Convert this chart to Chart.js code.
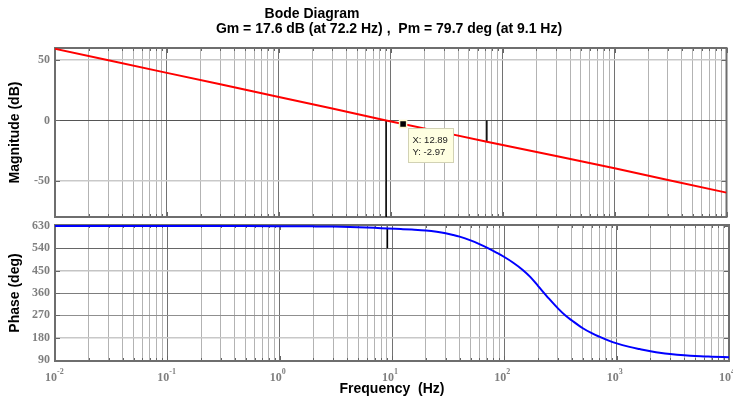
<!DOCTYPE html>
<html>
<head>
<meta charset="utf-8">
<title>Bode Diagram</title>
<script src="https://cdn.jsdelivr.net/npm/chart.js@4.4.1/dist/chart.umd.min.js"></script>
<style>
  html, body { margin: 0; padding: 0; background: #fff; }
  #wrap { position: relative; width: 733px; height: 400px; }
  #wrap canvas { position: absolute; left: 0; top: 0; }
</style>
</head>
<body>
<div id="wrap">
  <canvas id="mag" width="733" height="400"></canvas>
  <canvas id="phase" width="733" height="400"></canvas>
</div>
<script>
// ===== Data =====
const magFreq = [0.01, 0.03, 0.1, 0.3, 1, 3, 9.1, 12.89, 30, 72.2, 100, 300, 1000, 3000, 10000];
const magDb   = [59.3, 49.8, 39.4, 29.9, 19.4, 9.8, 0, -2.97, -10.1, -17.6, -20.3, -29.5, -39.6, -49.4, -59.8];

const phaseFreq = [0.01, 0.1, 0.5, 1, 2, 3, 5, 7, 9.1, 12, 15, 20, 25, 30, 35, 40, 50, 60, 72.2, 85,
                   100, 120, 145, 170, 200, 250, 300, 350, 400, 500, 600, 700, 850, 1000, 1300, 1600,
                   2000, 2500, 3000, 4000, 5000, 7000, 10000];
const phaseDeg  = [630, 630, 629.7, 629.3, 628.5, 627.6, 625.3, 622.6, 619.7, 617.5, 615.5, 612, 607, 601, 594, 587, 572, 557, 540, 523,
                   505, 482, 454, 425, 388, 337, 298, 269, 249, 218, 198, 184, 168, 157, 143, 134,
                   125, 118, 114, 109, 106, 103.5, 101.5];

const magTicks   = [-50, 0, 50];
const phaseTicks = [90, 180, 270, 360, 450, 540, 630];
const decades    = [-2, -1, 0, 1, 2, 3, 4];   // x axis: 10^-2 .. 10^4

const magRange   = [-80, 60];
const phaseRange = [86, 634];

// stability margins
const gm = { freq: 72.2, db: -17.6 };
const pm = { freq: 9.1, deg: 79.7 };
const phaseRef = 540;                      // -180 deg, wrapped
const dataTip = { x: 12.89, y: -2.97 };

// ===== Helpers =====
const SANS  = '"Liberation Sans", Arial, Helvetica, sans-serif';
const SERIF = '"Liberation Serif", "Times New Roman", serif';

const freqTicks = [];
decades.slice(0, -1).forEach(e => {
  for (let m = 1; m <= 9; m++) freqTicks.push(+(m * Math.pow(10, e)).toPrecision(3));
});
freqTicks.push(Math.pow(10, decades[decades.length - 1]));

const isDecade = v => Math.abs(Math.log10(v) - Math.round(Math.log10(v))) < 1e-9;
const pts = (xs, ys) => xs.map((x, i) => ({ x, y: ys[i] }));

// horizontal grid shades / widths
const magGrid   = { '-50': ['#c9c9c9', 1.5], '0': ['#555555', 1], '50': ['#c9c9c9', 1.5] };
const phaseGrid = {
  90: ['#777', 1], 180: ['#c8c8c8', 1.5], 270: ['#8f8f8f', 1], 360: ['#7d7d7d', 1],
  450: ['#c4c4c4', 1.5], 540: ['#666', 1], 630: ['#999', 1],
};

// ===== Plugins =====
const framePlugin = {
  id: 'frame',
  beforeDatasetsDraw(chart) {
    const { ctx, chartArea: a, scales: { x, y } } = chart;
    ctx.save();
    ctx.strokeStyle = '#666';
    ctx.lineWidth = 1;
    ctx.beginPath();
    x.ticks.forEach(t => {
      const px = Math.round(x.getPixelForValue(t.value)) + 0.5;
      const len = isDecade(t.value) ? 5 : 3;
      ctx.moveTo(px, a.top);    ctx.lineTo(px, a.top + len);
      ctx.moveTo(px, a.bottom); ctx.lineTo(px, a.bottom - len);
    });
    y.ticks.forEach(t => {
      const py = Math.round(y.getPixelForValue(t.value)) + 0.5;
      ctx.moveTo(a.left, py);  ctx.lineTo(a.left + 5, py);
      ctx.moveTo(a.right, py); ctx.lineTo(a.right - 5, py);
    });
    ctx.stroke();
    ctx.strokeStyle = '#6e6e6e';
    ctx.lineWidth = 2;
    ctx.strokeRect(a.left, a.top, a.right - a.left, a.bottom - a.top);
    ctx.restore();
  }
};

const titlePlugin = {
  id: 'bodeTitle',
  afterDraw(chart) {
    const { ctx } = chart;
    ctx.save();
    ctx.fillStyle = '#000';
    ctx.textAlign = 'center';
    ctx.textBaseline = 'alphabetic';
    ctx.font = 'bold 14px ' + SANS;
    ctx.fillText('Bode Diagram', 312, 18);
    ctx.fillText(`Gm = ${-gm.db} dB (at ${gm.freq} Hz) ,  Pm = ${pm.deg} deg (at ${pm.freq} Hz)`, 389, 33);
    ctx.restore();
  }
};

const tipPlugin = {
  id: 'dataTip',
  afterDraw(chart) {
    const { ctx, scales: { x, y } } = chart;
    const px = x.getPixelForValue(dataTip.x);
    const py = y.getPixelForValue(dataTip.y);
    const bx = Math.round(px + 5) + 0.5, by = Math.round(py + 4) + 0.5;
    ctx.save();
    ctx.fillStyle = '#ffffe1';
    ctx.strokeStyle = '#d2d2b4';
    ctx.lineWidth = 1;
    ctx.fillRect(bx, by, 45, 34);
    ctx.strokeRect(bx, by, 45, 34);
    ctx.fillStyle = '#222';
    ctx.font = '9.5px ' + SANS;
    ctx.textBaseline = 'middle';
    ctx.fillText('X: ' + dataTip.x.toFixed(2), bx + 4, by + 12);
    ctx.fillText('Y: ' + dataTip.y.toFixed(2), bx + 4, by + 24);
    ctx.restore();
  }
};

// 10^n labels with raised exponent
const decadeLabels = {
  id: 'decadeLabels',
  afterDraw(chart) {
    const { ctx, scales: { x } } = chart;
    ctx.save();
    ctx.fillStyle = '#7f7f7f';
    ctx.textBaseline = 'alphabetic';
    decades.forEach(e => {
      const px = x.getPixelForValue(Math.pow(10, e));
      ctx.font = 'bold 12px ' + SERIF;
      ctx.textAlign = 'right';
      ctx.fillText('10', px + 2, 381);
      ctx.font = 'bold 8px ' + SERIF;
      ctx.textAlign = 'left';
      ctx.fillText(String(e), px + 2, 374);
    });
    ctx.restore();
  }
};

// ===== Shared axis builders =====
function freqAxis(extra) {
  return Object.assign({
    type: 'logarithmic',
    min: Math.pow(10, decades[0]),
    max: Math.pow(10, decades[decades.length - 1]),
    afterBuildTicks: s => { s.ticks = freqTicks.map(v => ({ value: v })); },
    ticks: { display: false },
    border: { display: false },
    grid: {
      drawTicks: false,
      color: c => isDecade(c.tick.value) ? '#727272' : '#b3b3b3',
      lineWidth: 1,
    },
  }, extra);
}

function valueAxis(ticks, range, shades, label) {
  return {
    min: range[0],
    max: range[1],
    afterBuildTicks: s => { s.ticks = ticks.map(v => ({ value: v })); },
    afterFit: s => { s.width = 55; },
    border: { display: false },
    ticks: {
      color: '#7f7f7f',
      padding: 5,
      font: { family: SERIF, weight: 'bold', size: 12 },
    },
    grid: {
      drawTicks: false,
      color: c => (shades[c.tick.value] || ['#aaa'])[0],
      lineWidth: c => (shades[c.tick.value] || [0, 1])[1],
    },
    title: {
      display: true,
      text: label,
      color: '#000',
      padding: { top: 7, bottom: 0 },
      font: { family: SANS, weight: 'bold', size: 14 },
    },
  };
}

const baseOptions = {
  responsive: false,
  animation: false,
  events: [],
  plugins: { legend: { display: false }, tooltip: { enabled: false } },
};

// ===== Magnitude =====
new Chart(document.getElementById('mag'), {
  type: 'scatter',
  data: {
    datasets: [
      { data: [dataTip], pointStyle: 'rect', pointRadius: 5, pointBackgroundColor: '#000',
        pointBorderColor: '#fbf7c8', pointBorderWidth: 1.5 },
      { data: pts(magFreq, magDb), showLine: true, borderColor: '#ff0000', borderWidth: 2, pointRadius: 0 },
      { data: [{ x: gm.freq, y: 0 }, { x: gm.freq, y: gm.db }], showLine: true,
        borderColor: '#000', borderWidth: 1.5, pointRadius: 0 },
      { data: [{ x: pm.freq, y: magRange[0] }, { x: pm.freq, y: 0 }], showLine: true,
        borderColor: '#000', borderWidth: 1.5, pointRadius: 0 },
    ],
  },
  options: Object.assign({}, baseOptions, {
    layout: { padding: { top: 48, right: 4, bottom: 183, left: 0 } },
    scales: {
      x: freqAxis({ afterFit: s => { s.height = 0; } }),
      y: valueAxis(magTicks, magRange, magGrid, 'Magnitude (dB)'),
    },
  }),
  plugins: [framePlugin, titlePlugin, tipPlugin],
});

// ===== Phase =====
new Chart(document.getElementById('phase'), {
  type: 'scatter',
  data: {
    datasets: [
      { data: pts(phaseFreq, phaseDeg), showLine: true, borderColor: '#0000ff', borderWidth: 2,
        pointRadius: 0, cubicInterpolationMode: 'monotone' },
      { data: [{ x: pm.freq, y: phaseRef }, { x: pm.freq, y: phaseRef + pm.deg }], showLine: true,
        borderColor: '#000', borderWidth: 1.5, pointRadius: 0 },
    ],
  },
  options: Object.assign({}, baseOptions, {
    layout: { padding: { top: 225, right: 4, bottom: 0, left: 0 } },
    scales: {
      x: freqAxis({
        afterFit: s => { s.height = 39; },
        title: {
          display: true,
          text: 'Frequency  (Hz)',
          color: '#000',
          padding: { top: 0, bottom: 2 },
          font: { family: SANS, weight: 'bold', size: 14 },
        },
      }),
      y: valueAxis(phaseTicks, phaseRange, phaseGrid, 'Phase (deg)'),
    },
  }),
  plugins: [framePlugin, decadeLabels],
});
</script>
</body>
</html>
